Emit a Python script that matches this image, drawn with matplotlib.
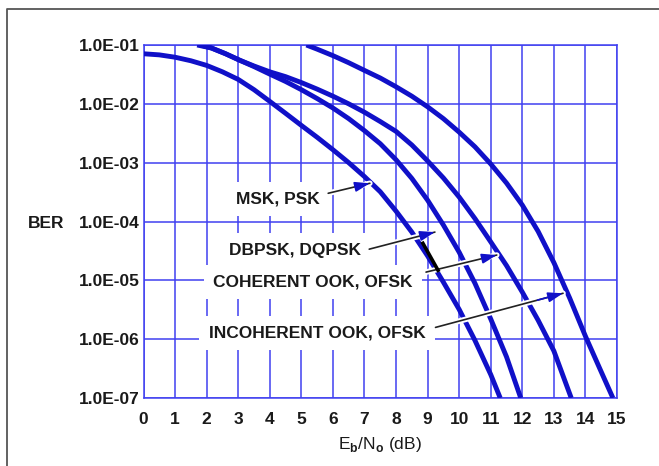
import matplotlib
matplotlib.use('Agg')
from matplotlib import pyplot as plt
from matplotlib import patheffects as pe
from matplotlib.lines import Line2D

plt.rcParams['font.family'] = ['Liberation Sans', 'DejaVu Sans']
plt.rcParams['font.weight'] = 'bold'
plt.rcParams['mathtext.fontset'] = 'custom'
plt.rcParams['mathtext.rm'] = 'Liberation Sans:bold'

# 곡선 데이터 (Eb/No [dB], BER) - 그림에서 읽은 값
msk_x = [0, 0.5, 1, 1.5, 2, 2.5, 3, 3.5, 4, 4.5, 5, 5.5, 6, 6.5, 7, 7.5, 8, 8.5, 9,
         9.5, 10, 10.5, 11, 11.3]
msk_ber = [7.1e-2, 6.8e-2, 6.2e-2, 5.4e-2, 4.5e-2, 3.5e-2, 2.6e-2, 1.74e-2, 1.1e-2,
           6.9e-3, 4.3e-3, 2.7e-3, 1.66e-3, 1.0e-3, 5.8e-4, 3.2e-4, 1.5e-4, 6.6e-5,
           2.6e-5, 9.3e-6, 3.2e-6, 9.5e-7, 2.5e-7, 1.0e-7]

dbpsk_x = [1.7, 2.15, 2.6, 3.05, 3.5, 4, 4.5, 5, 5.5, 6, 6.5, 7, 7.5, 8, 8.5, 9, 9.5,
           10, 10.5, 11, 11.5, 11.95]
dbpsk_ber = [1.0e-1, 8.9e-2, 7.1e-2, 5.5e-2, 4.3e-2, 3.2e-2, 2.4e-2, 1.74e-2, 1.23e-2,
             8.5e-3, 5.6e-3, 3.5e-3, 2.1e-3, 1.12e-3, 5.4e-4, 2.3e-4, 8.7e-5, 3.0e-5,
             8.9e-6, 2.2e-6, 5.0e-7, 1.0e-7]

coh_x = [1.8, 2.15, 2.6, 3.05, 3.5, 4, 4.5, 5, 5.5, 6, 6.5, 7, 7.5, 8, 8.5, 9, 9.5,
         10, 10.5, 11, 11.5, 12, 12.5, 13, 13.55]
coh_ber = [1.0e-1, 8.9e-2, 7.1e-2, 5.5e-2, 4.4e-2, 3.5e-2, 2.9e-2, 2.3e-2, 1.78e-2,
           1.35e-2, 1.0e-2, 7.2e-3, 5.0e-3, 3.4e-3, 2.0e-3, 1.07e-3, 5.5e-4, 2.6e-4,
           1.12e-4, 4.5e-5, 1.78e-5, 6.3e-6, 2.1e-6, 6.3e-7, 1.0e-7]

incoh_x = [5.16, 5.5, 6, 6.5, 7, 7.5, 8, 8.5, 9, 9.5, 10, 10.5, 11, 11.5, 12, 12.5,
           13, 13.5, 14, 14.45, 14.87]
incoh_ber = [1.0e-1, 8.5e-2, 6.6e-2, 5.0e-2, 3.7e-2, 2.75e-2, 1.95e-2, 1.35e-2, 8.9e-3,
             5.6e-3, 3.3e-3, 1.86e-3, 9.5e-4, 4.5e-4, 1.9e-4, 6.8e-5, 2.0e-5, 5.0e-6,
             1.12e-6, 3.2e-7, 1.0e-7]

x_ticks = list(range(16))
y_ticks = [1e-1, 1e-2, 1e-3, 1e-4, 1e-5, 1e-6, 1e-7]
y_ticklabels = ['1.0E-01', '1.0E-02', '1.0E-03', '1.0E-04', '1.0E-05', '1.0E-06', '1.0E-07']

# 라벨: 텍스트, 텍스트 위치, 화살표 시작, 화살표 끝
labels = ['MSK, PSK', 'DBPSK, DQPSK', 'COHERENT OOK, OFSK', 'INCOHERENT OOK, OFSK']
label_pos = [(4.26, 10**-3.62), (4.80, 10**-4.49), (5.37, 10**-5.03), (5.50, 10**-5.90)]
arrow_tail = [(5.85, 10**-3.52), (7.15, 10**-4.47), (8.95, 10**-4.86), (9.25, 10**-5.80)]
arrow_head = [(7.17, 10**-3.35), (9.23, 10**-4.18), (11.19, 10**-4.57), (13.29, 10**-5.22)]
slash_x = [8.85, 9.33]
slash_y = [10**-4.37, 10**-4.83]

curve_color = '#1010c8'
grid_color = '#4040f0'
text_color = '#1a1a1a'

fig = plt.figure(figsize=(6.59, 4.66), dpi=100)
ax = fig.add_axes([0.2178, 0.1459, 0.7185, 0.7575])

ax.set_yscale('log')
ax.set_xlim(0, 15)
ax.set_ylim(1e-7, 1e-1)
ax.set_xticks(x_ticks)
ax.set_xticklabels([str(t) for t in x_ticks])
ax.set_yticks(y_ticks)
ax.set_yticklabels(y_ticklabels)
ax.minorticks_off()
ax.tick_params(axis='both', length=0, labelsize=12.5, labelcolor=text_color)
ax.tick_params(axis='x', pad=10)
ax.tick_params(axis='y', pad=3)
ax.grid(True, color=grid_color, linewidth=1.1, zorder=0)
ax.set_axisbelow(True)
for s in ax.spines.values():
    s.set_color(grid_color)
    s.set_linewidth(1.1)

# 곡선
for xs, ys in [(msk_x, msk_ber), (dbpsk_x, dbpsk_ber), (coh_x, coh_ber), (incoh_x, incoh_ber)]:
    ax.plot(xs, ys, color=curve_color, linewidth=3.5, solid_joinstyle='round',
            solid_capstyle='butt', zorder=3)

# 라벨 + 화살표
for txt, pos, tail, head in zip(labels, label_pos, arrow_tail, arrow_head):
    ax.text(pos[0], pos[1], txt, ha='center', va='center', fontsize=12.5,
            color=text_color, zorder=2,
            bbox=dict(boxstyle='square,pad=0.55', facecolor='white', edgecolor='none'))
    ax.annotate('', xy=head, xytext=tail,
                arrowprops=dict(arrowstyle='-', color='#222222', lw=1.2,
                                shrinkA=0, shrinkB=0,
                                path_effects=[pe.withStroke(linewidth=4, foreground='white')]),
                zorder=4)
    mid = (tail[0] + (head[0] - tail[0]) * 0.8, tail[1] * (head[1] / tail[1]) ** 0.8)
    ax.annotate('', xy=head, xytext=mid,
                arrowprops=dict(arrowstyle='-|>,head_length=0.9,head_width=0.3',
                                color=curve_color, lw=1.2, shrinkA=0, shrinkB=0),
                zorder=5)

ax.plot(slash_x, slash_y, color='black', linewidth=2.6, zorder=5)

ax.set_xlabel(r'E$_{\mathrm{b}}$/N$_{\mathrm{o}}$ (dB)', fontsize=12.5, color=text_color, labelpad=6)
fig.text(46 / 659, 1 - 223 / 466, 'BER', ha='center', va='center', fontsize=12.5, color=text_color)

# 바깥 테두리
fig.add_artist(Line2D([7 / 659, 7 / 659, 1.0], [0.0, 1 - 9 / 466, 1 - 9 / 466],
                      color='#555555', linewidth=1.3))

fig.savefig('out.png', dpi=100)
plt.close()
